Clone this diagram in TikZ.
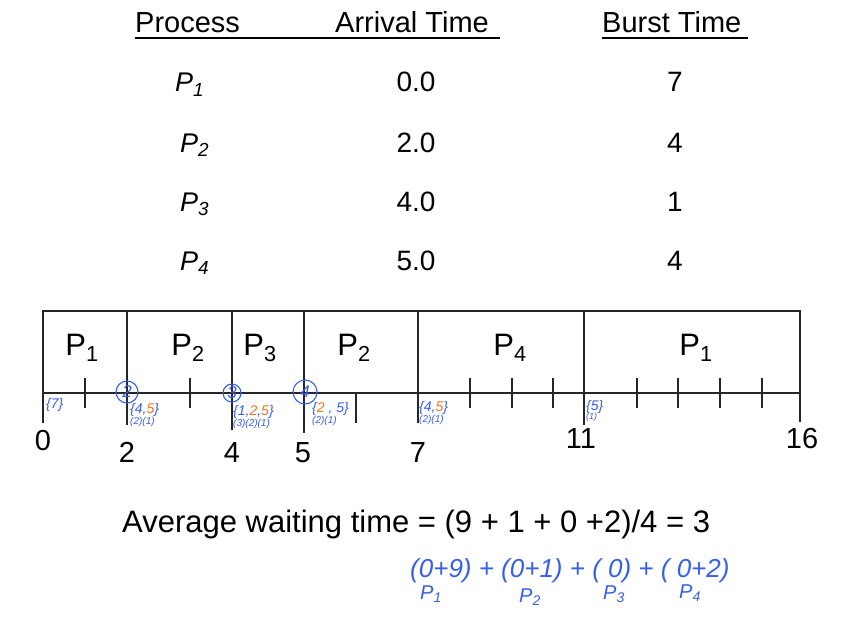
\documentclass[tikz,border=0pt]{standalone}
\usepackage{fontspec}
\setmainfont{Liberation Sans}
\usepackage{tikz}
\usetikzlibrary{positioning, calc}
\definecolor{inkblue}{RGB}{55, 95, 235}
\definecolor{inkorange}{RGB}{245, 115, 30}

\begin{document}
\begin{tikzpicture}[
  x=1pt, y=-1pt,
  hdr/.style={anchor=base west, inner sep=0pt, font=\fontsize{29}{32}\selectfont},
  cell/.style={anchor=base, inner sep=0pt, font=\fontsize{28}{32}\selectfont},
  pname/.style={anchor=base west, inner sep=0pt, font=\fontsize{27}{32}\selectfont\itshape},
  gname/.style={anchor=base, inner sep=0pt, font=\fontsize{31}{34}\selectfont},
  tlabel/.style={anchor=base, inner sep=0pt, font=\fontsize{29}{32}\selectfont},
  bar/.style={line width=1.1pt, draw=black!85},
  note/.style={anchor=north west, inner sep=0pt, text=inkblue, align=left, font=\fontsize{14}{12}\selectfont\itshape},
  ring/.style={circle, draw=inkblue, line width=1.1pt, inner sep=0pt, text=inkblue, font=\fontsize{17}{17}\selectfont\itshape},
  hand/.style={anchor=base, inner sep=0pt, text=inkblue, font=\fontsize{26}{28}\selectfont\itshape},
  handsub/.style={hand, font=\fontsize{20}{22}\selectfont\itshape}
]
  \fill[white] (0,0) rectangle (851,642);
  \useasboundingbox (0,0) rectangle (851,642);

  % table
  \node[hdr] (hproc) at (135,33) {Process};
  \node[hdr] (harr) at (335,33) {Arrival Time};
  \node[hdr] (hburst) at (602,33) {Burst Time};
  \draw[line width=1.2pt] (135,38) -- (500,38);
  \draw[line width=1.2pt] (602,38) -- (748,38);

  \node[pname] (p1) at (175,92) {P\textsubscript{1}};
  \node[pname] (p2) at (180,152) {P\textsubscript{2}};
  \node[pname] (p3) at (180,211) {P\textsubscript{3}};
  \node[pname] (p4) at (180,270) {P\textsubscript{4}};
  \node[cell] (a1) at (416,92) {0.0};
  \node[cell] (a2) at (416,152) {2.0};
  \node[cell] (a3) at (416,211) {4.0};
  \node[cell] (a4) at (416,270) {5.0};
  \node[cell] (b1) at (675,92) {7};
  \node[cell] (b2) at (675,152) {4};
  \node[cell] (b3) at (675,211) {1};
  \node[cell] (b4) at (675,270) {4};

  % gantt chart
  \draw[bar] (43,311) rectangle (800,393);
  \draw[bar] (43,393) -- (43,423);
  \draw[bar] (127,311) -- (127,425);
  \draw[bar] (232,311) -- (232,430);
  \draw[bar] (304,311) -- (304,433);
  \draw[bar] (418,311) -- (418,423);
  \draw[bar] (584,311) -- (584,425);
  \draw[bar] (800,393) -- (800,422);
  \draw[bar] (356,393) -- (356,423);
  \foreach \tx in {85, 190, 470, 512, 553, 637, 678, 720, 762}
    \draw[bar] (\tx,378) -- (\tx,408);

  \node[gname] (g1) at (82,355) {P\textsubscript{1}};
  \node[gname] (g2) at (188,355) {P\textsubscript{2}};
  \node[gname] (g3) at (260,355) {P\textsubscript{3}};
  \node[gname] (g4) at (354,355) {P\textsubscript{2}};
  \node[gname] (g5) at (510,355) {P\textsubscript{4}};
  \node[gname] (g6) at (696,355) {P\textsubscript{1}};

  \node[tlabel] (t0) at (43,450) {0};
  \node[tlabel] (t2) at (127,462) {2};
  \node[tlabel] (t4) at (232,462) {4};
  \node[tlabel] (t5) at (303,462) {5};
  \node[tlabel] (t7) at (418,462) {7};
  \node[tlabel] (t11) at (581,448) {11};
  \node[tlabel] (t16) at (802,448) {16};

  % handwritten notes
  \node[ring, minimum size=22pt] (c2) at (127,392) {2};
  \node[ring, minimum size=18pt] (c4) at (232,393) {3};
  \node[ring, minimum size=24pt] (c5) at (305,392) {4};
  \node[note] (n0) at (46,398) {\{7\}};
  \node[note] (n2) at (130,403) {\{4,\textcolor{inkorange}{5}\}\\[-1pt]{\fontsize{10}{10}\selectfont (2)(1)}};
  \node[note] (n4) at (233,405) {\{1,\textcolor{inkorange}{2},\textcolor{inkorange}{5}\}\\[-1pt]{\fontsize{10}{10}\selectfont (3)(2)(1)}};
  \node[note] (n5) at (312,402) {\{\textcolor{inkorange}{2} , 5\}\\[-1pt]{\fontsize{10}{10}\selectfont (2)(1)}};
  \node[note] (n7) at (419,401) {\{4,\textcolor{inkorange}{5}\}\\[-1pt]{\fontsize{10}{10}\selectfont (2)(1)}};
  \node[note] (n11) at (586,400) {\{5\}\\[-3pt]{\fontsize{9}{9}\selectfont (1)}};

  % average
  \node[anchor=base west, inner sep=0pt, font=\fontsize{31}{34}\selectfont] (avg) at (122,532)
    {Average waiting time = (9 + 1 + 0 +2)/4 = 3};
  \node[hand, anchor=base west] (sum) at (410,577) {(0+9) + (0+1) + ( 0) + ( 0+2)};
  \node[handsub] (s1) at (431,599) {P\textsubscript{1}};
  \node[handsub] (s2) at (530,602) {P\textsubscript{2}};
  \node[handsub] (s3) at (614,599) {P\textsubscript{3}};
  \node[handsub] (s4) at (690,598) {P\textsubscript{4}};
\end{tikzpicture}
\end{document}
